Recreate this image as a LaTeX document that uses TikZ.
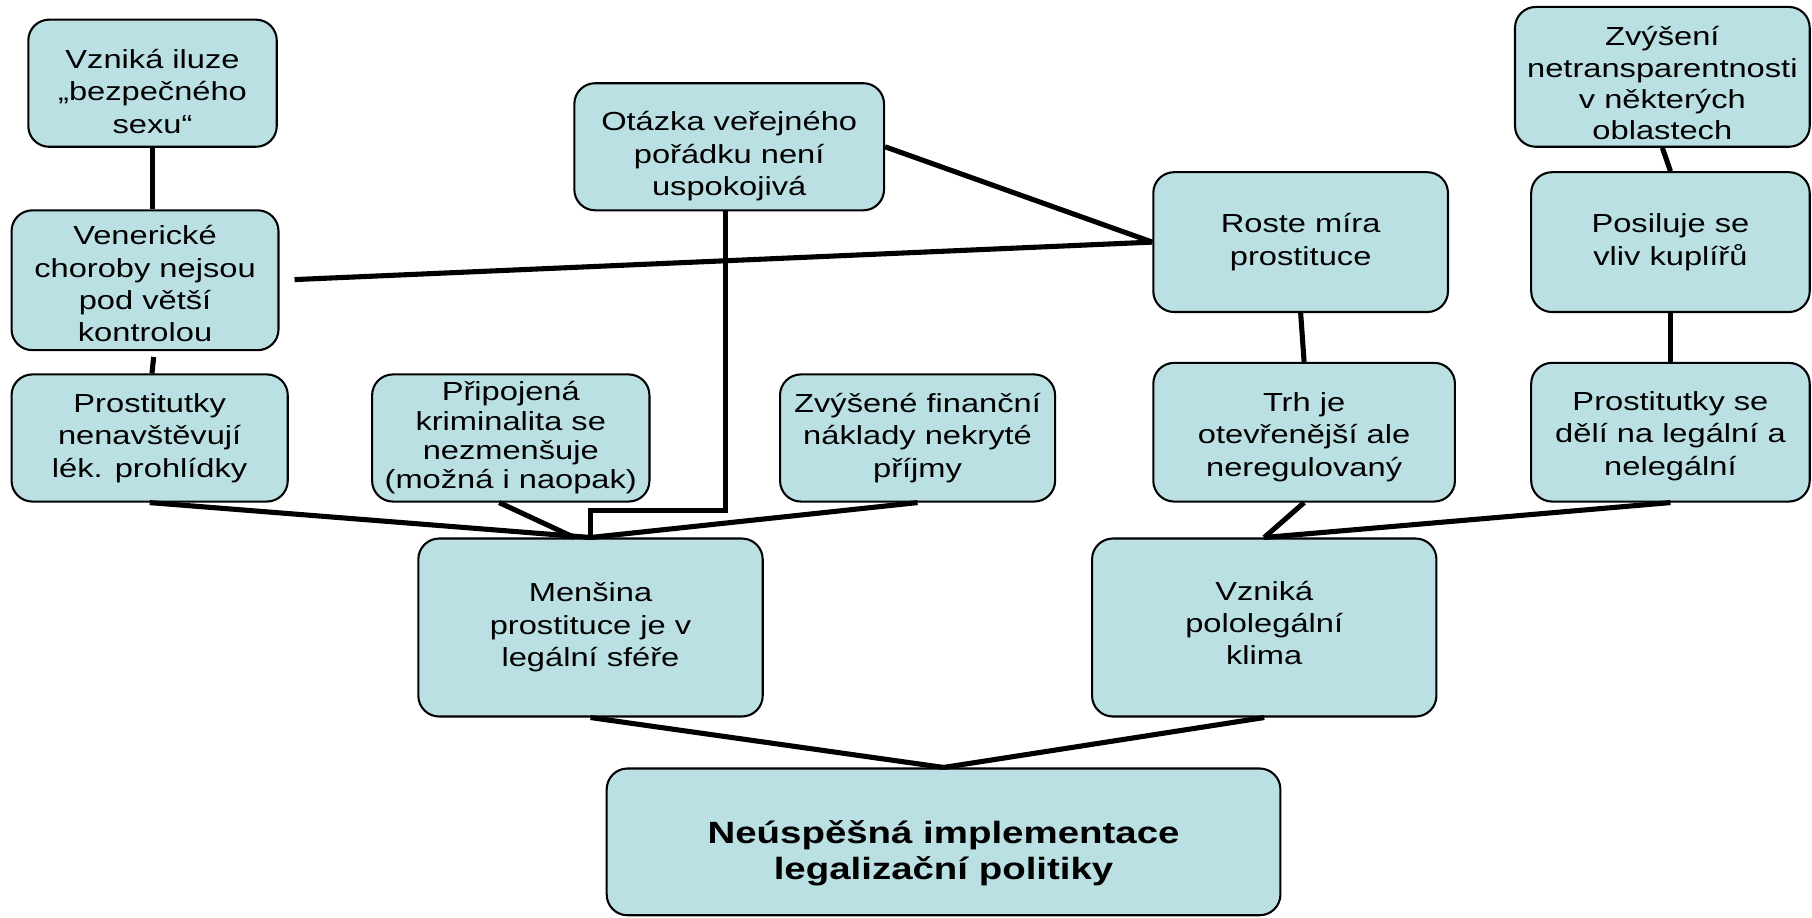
\documentclass[tikz,border=0pt]{standalone}
\usepackage{fontspec}
\setmainfont{Liberation Sans}[FakeStretch=1.25]
\definecolor{boxfill}{RGB}{187,224,227}
\newcommand{\lowered}[1]{\rule{0pt}{#1}}
\begin{document}
\begin{tikzpicture}[x=0.5pt,y=-0.5pt,
    box/.style={draw, line width=0.9pt, fill=boxfill, rounded corners=9pt,
      align=center, inner sep=1pt, font=\fontsize{11.3}{14}\selectfont},
    textup/.style={execute at end node={\rule[-#1]{0pt}{0pt}}},
    link/.style={line width=2.2pt}]
  \useasboundingbox (0,0) rectangle (1568,794);
  \node[box, minimum width=107.5pt, minimum height=55pt] (iluze) at (132,72) {\lowered{15.4pt}Vzniká iluze\\„bezpečného\\sexu“};
  \node[box, minimum width=115.5pt, minimum height=60.5pt] (vener) at (125.5,242.5) {\lowered{11.4pt}Venerické\\choroby nejsou\\pod větší\\kontrolou};
  \node[box, minimum width=134pt, minimum height=55pt] (otazka) at (631,127) {\lowered{16.4pt}Otázka veřejného\\pořádku není\\uspokojivá};
  \node[box, minimum width=127.5pt, minimum height=60.5pt] (roste) at (1125.5,209.5) {Roste míra\\prostituce};
  \node[box, minimum width=127.5pt, minimum height=60.5pt, font=\fontsize{11.3}{13.5}\selectfont] (zvyseni) at (1438.5,66.5) {\lowered{13.9pt}Zvýšení\\netransparentnosti\\v některých\\oblastech};
  \node[box, minimum width=120.5pt, minimum height=60.5pt] (posiluje) at (1445.5,209.5) {Posiluje se\\vliv kuplířů};
  \node[box, minimum width=119.5pt, minimum height=55pt] (prostnav) at (129.5,379) {Prostitutky\\nenavštěvují\\lék. prohlídky};
  \node[box, minimum width=120pt, minimum height=55pt, font=\fontsize{11.3}{12.7}\selectfont] (pripojena) at (442,379) {Připojená\\kriminalita se\\nezmenšuje\\(možná i naopak)};
  \node[box, minimum width=119pt, minimum height=55pt] (naklady) at (794,379) {Zvýšené finanční\\náklady nekryté\\příjmy};
  \node[box, minimum width=130.5pt, minimum height=60pt] (trh) at (1128.5,374) {\lowered{12.4pt}Trh je\\otevřenější ale\\neregulovaný};
  \node[box, minimum width=120.5pt, minimum height=60pt] (deli) at (1445.5,374) {\lowered{11.4pt}Prostitutky se\\dělí na legální a\\nelegální};
  \node[box, minimum width=149pt, minimum height=77pt] (mensina) at (511,543) {Menšina\\prostituce je v\\legální sféře};
  \node[box, textup=4pt, minimum width=149pt, minimum height=77pt] (pololeg) at (1094,543) {Vzniká\\pololegální\\klima};
  \node[box, minimum width=291.5pt, minimum height=63.5pt, font=\fontsize{13.3}{15.5}\selectfont\bfseries] (neusp) at (816.5,728.5) {\lowered{20pt}Neúspěšná implementace\\legalizační politiky};
  \draw[link] (iluze.south) -- (iluze.south |- vener.north);
  \draw[link, shorten <=2.5pt] ([xshift=4pt]vener.south) -- ([xshift=1pt]prostnav.north);
  \draw[link, shorten <=6.5pt] (vener.east) -- (roste.west);
  \draw[link] (otazka.east) -- (roste.west);
  \draw[link] ([xshift=-1.5pt]otazka.south) |- ([yshift=11.5pt]mensina.north) -- (mensina.north);
  \draw[link] (prostnav.south) -- (mensina.north);
  \draw[link] ([xshift=-5pt]pripojena.south) -- ([xshift=-7pt]mensina.north);
  \draw[link] (naklady.south) -- (mensina.north);
  \draw[link] (roste.south) -- (trh.north);
  \draw[link] (zvyseni.south) -- (posiluje.north);
  \draw[link] (posiluje.south) -- (deli.north);
  \draw[link] (trh.south) -- (pololeg.north);
  \draw[link] (deli.south) -- (pololeg.north);
  \draw[link] (mensina.south) -- (neusp.north);
  \draw[link] (pololeg.south) -- (neusp.north);
\end{tikzpicture}
\end{document}
